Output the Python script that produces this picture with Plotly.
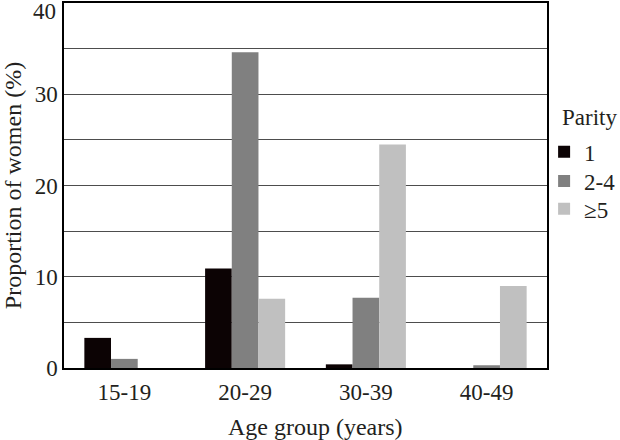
import plotly.graph_objects as go

age_groups = ["15-19", "20-29", "30-39", "40-49"]
parity_1 = [3.3, 10.9, 0.4, 0.0]
parity_2_4 = [1.0, 34.6, 7.7, 0.3]
parity_5plus = [0.0, 7.6, 24.5, 9.0]
series_names = ["1", "2-4", "≥5"]
series_colors = ["#0c0304", "#808080", "#c0c0c0"]
y_tick_values = [0, 10, 20, 30, 40]
legend_title = "Parity"
x_title = "Age group (years)"
y_title = "Proportion of women (%)"

FONT = "'Liberation Serif', 'Times New Roman', 'DejaVu Serif', serif"
TXT = "#231f20"

fig = go.Figure()
legend_ids = ["legend", "legend2", "legend3"]
legend_ys = [0.592, 0.512, 0.436]
for name, vals, col, lid in zip(series_names, [parity_1, parity_2_4, parity_5plus], series_colors, legend_ids):
    fig.add_trace(go.Bar(x=age_groups, y=vals, name=name, legend=lid, showlegend=True,
                         marker=dict(color=col, line=dict(width=0))))

legend_common = dict(
    font=dict(family=FONT, size=23, color=TXT),
    x=0.994, xanchor="left", yanchor="middle",
    bgcolor="rgba(0,0,0,0)", itemwidth=30, borderwidth=0,
)
layout_legends = {lid: dict(legend_common, y=ly) for lid, ly in zip(legend_ids, legend_ys)}

# top tick label sits just below the frame in the reference
top_tick = y_tick_values[-1]

fig.update_layout(
    width=620, height=440, showlegend=True,
    paper_bgcolor="white", plot_bgcolor="white",
    barmode="group", bargap=0.337, bargroupgap=0,
    margin=dict(l=64, r=73, t=3, b=72, autoexpand=False),
    font=dict(family=FONT, color=TXT, size=23),
    xaxis=dict(
        showline=True, linecolor="#000000", linewidth=1.5, mirror=True,
        ticks="", tickfont=dict(family=FONT, size=23, color=TXT),
        ticklabelstandoff=3,
        showgrid=False, automargin=False,
    ),
    yaxis=dict(
        range=[y_tick_values[0], top_tick],
        tickvals=y_tick_values[:-1],
        showline=True, linecolor="#000000", linewidth=1.5, mirror=True,
        ticks="", tickfont=dict(family=FONT, size=23, color=TXT),
        showgrid=True, gridcolor="#4d4d4d", gridwidth=1,
        minor=dict(dtick=5, showgrid=True, gridcolor="#4d4d4d", gridwidth=1),
        zeroline=False, automargin=False,
        title=dict(text=y_title, font=dict(family=FONT, size=24, color=TXT), standoff=6),
    ),
    annotations=[
        dict(text=str(top_tick), xref="paper", yref="y", x=0, y=top_tick,
             xanchor="right", yanchor="middle", xshift=-6, yshift=-8, showarrow=False,
             font=dict(family=FONT, size=23, color=TXT)),
        dict(text=legend_title, xref="paper", yref="paper", x=1.027, y=0.685,
             xanchor="left", yanchor="middle", showarrow=False,
             font=dict(family=FONT, size=23, color=TXT)),
        dict(text=x_title, xref="paper", yref="paper", x=0.5217, y=-0.1616,
             xanchor="center", yanchor="middle", showarrow=False,
             font=dict(family=FONT, size=24, color=TXT)),
    ],
    **layout_legends,
)

fig.write_html("out.html", config={"displayModeBar": False},
               post_script="document.body.style.margin='0';")
